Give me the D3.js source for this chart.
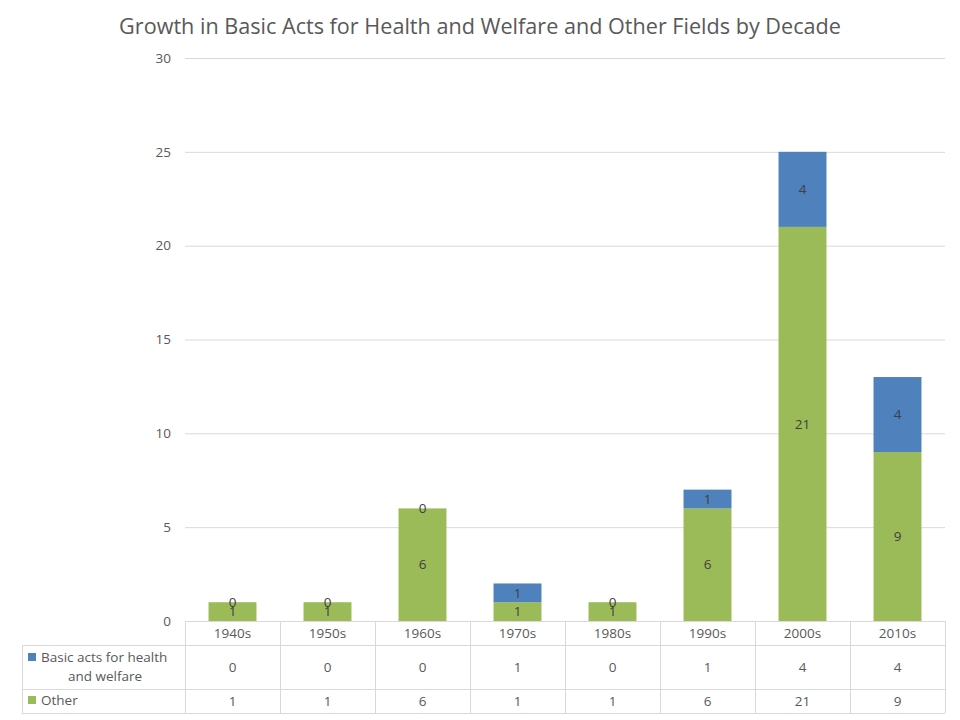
<!DOCTYPE html>
<html><head><meta charset="utf-8">
<script src="https://cdn.jsdelivr.net/npm/d3@7"></script>
<style>body{margin:0;background:#fff}svg{display:block}</style>
</head><body>
<script>
const categories = ["1940s","1950s","1960s","1970s","1980s","1990s","2000s","2010s"];
const seriesNames = ["Other","Basic acts for health and welfare"];
const otherValues = [1,1,6,1,1,6,21,9];
const basicValues = [0,0,0,1,0,1,4,4];
const yTicks = [0,5,10,15,20,25,30];
const title = "Growth in Basic Acts for Health and Welfare and Other Fields by Decade";

const W=960,H=720;
const font="'Open Sans', sans-serif";
const fs=13.5;
const svg=d3.select("body").append("svg").attr("width",W).attr("height",H);
const L=185,R=945,T=58,B=621;
const x=d3.scaleBand().domain(categories).range([L,R]).paddingInner(0).paddingOuter(0);
const y=d3.scaleLinear().domain([0,30]).range([B,T]);
const grid="#d9d9d9", txt="#595959";
const colors={"Other":"#9bbb59","Basic acts for health and welfare":"#4f81bd"};

// title
const tt=svg.append("text").attr("x",480).attr("y",34).attr("text-anchor","middle")
  .attr("font-family",font).attr("font-size",21).attr("fill",txt).text(title);
const tw=tt.node().getComputedTextLength();
tt.attr("font-size",21*722/tw);

// gridlines
svg.append("g").selectAll("line").data(yTicks.filter(d=>d>0)).join("line")
  .attr("x1",L).attr("x2",R).attr("y1",d=>y(d)+0.5).attr("y2",d=>y(d)+0.5)
  .attr("stroke",grid).attr("stroke-width",1);

// y axis
const ya=svg.append("g").attr("transform",`translate(${L},0)`)
  .call(d3.axisLeft(y).tickValues(yTicks).tickSize(0).tickPadding(14));
ya.select(".domain").remove();
ya.selectAll("text").attr("font-family",font).attr("font-size",fs).attr("fill",txt);

// stacked bars
const rows=categories.map((c,i)=>({cat:c,"Other":otherValues[i],"Basic acts for health and welfare":basicValues[i]}));
const stack=d3.stack().keys(seriesNames)(rows);
const bw=x.bandwidth()*0.505, off=(x.bandwidth()-bw)/2;
const gs=svg.append("g").selectAll("g").data(stack).join("g").attr("fill",d=>colors[d.key]);
gs.selectAll("rect").data(d=>d).join("rect")
  .attr("x",d=>x(d.data.cat)+off).attr("width",bw)
  .attr("y",d=>y(d[1])).attr("height",d=>y(d[0])-y(d[1]));
// labels
svg.append("g").selectAll("g").data(stack).join("g").selectAll("text").data(d=>d).join("text")
  .attr("x",d=>x(d.data.cat)+x.bandwidth()/2).attr("y",d=>(y(d[0])+y(d[1]))/2)
  .attr("dy","0.35em").attr("text-anchor","middle").attr("font-family",font).attr("font-size",fs)
  .attr("fill","#404040").text(d=>d[1]-d[0]);

// data table
const tg=svg.append("g").attr("stroke",grid).attr("stroke-width",1).attr("shape-rendering","crispEdges");
const r0=621,r1=645,r2=689,r3=713,LL=22;
tg.append("line").attr("x1",L).attr("x2",R).attr("y1",r0+0.5).attr("y2",r0+0.5);
[r1,r2,r3].forEach(v=>tg.append("line").attr("x1",LL).attr("x2",R).attr("y1",v+0.5).attr("y2",v+0.5));
tg.append("line").attr("x1",LL+0.5).attr("x2",LL+0.5).attr("y1",r1).attr("y2",r3);
const vx=categories.map(c=>x(c)).concat([R]);
tg.selectAll("line.v").data(vx).join("line").attr("class","v")
  .attr("x1",d=>d+0.5).attr("x2",d=>d+0.5).attr("y1",r0).attr("y2",r3);

const tf=(sel)=>sel.attr("font-family",font).attr("font-size",fs).attr("fill",txt).attr("text-anchor","middle").attr("dy","0.35em");
svg.append("g").selectAll("text").data(categories).join("text")
  .attr("x",d=>x(d)+x.bandwidth()/2).attr("y",633).call(tf).text(d=>d);
svg.append("g").selectAll("text").data(basicValues).join("text")
  .attr("x",(d,i)=>x(categories[i])+x.bandwidth()/2).attr("y",667).call(tf).text(d=>d);
svg.append("g").selectAll("text").data(otherValues).join("text")
  .attr("x",(d,i)=>x(categories[i])+x.bandwidth()/2).attr("y",701).call(tf).text(d=>d);

// legend keys
svg.append("rect").attr("x",28).attr("y",653).attr("width",8).attr("height",8).attr("fill",colors["Basic acts for health and welfare"]);
svg.append("rect").attr("x",28).attr("y",696).attr("width",8).attr("height",8).attr("fill",colors["Other"]);
svg.append("text").attr("x",41).attr("y",657).attr("dy","0.35em").attr("font-family",font).attr("font-size",fs).attr("fill",txt).text("Basic acts for health");
svg.append("text").attr("x",105).attr("y",676).attr("dy","0.35em").attr("text-anchor","middle").attr("font-family",font).attr("font-size",fs).attr("fill",txt).text("and welfare");
svg.append("text").attr("x",41).attr("y",700).attr("dy","0.35em").attr("font-family",font).attr("font-size",fs).attr("fill",txt).text("Other");
</script>
</body></html>
